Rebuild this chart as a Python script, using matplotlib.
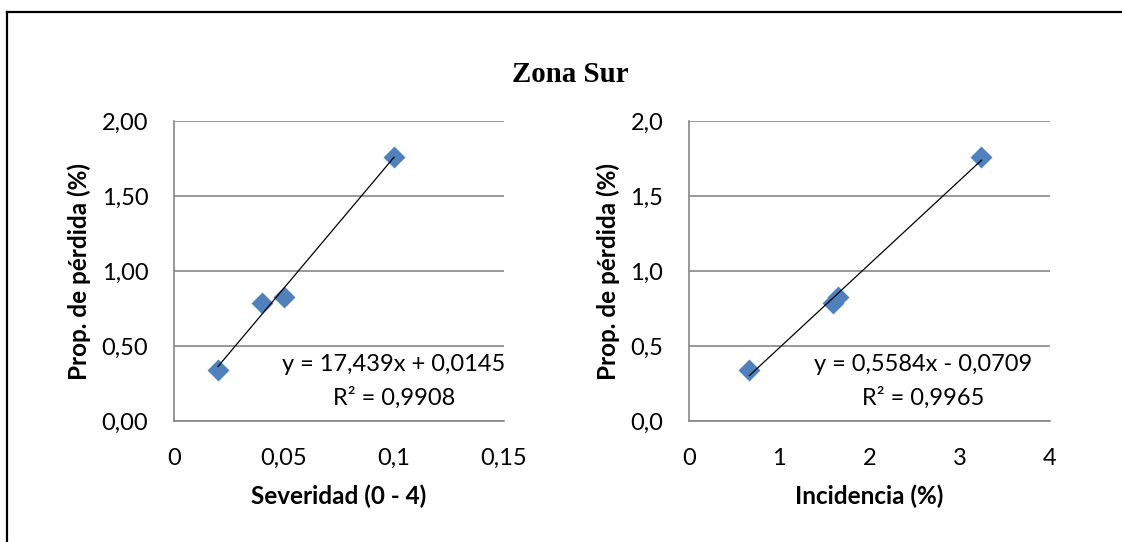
import numpy as np
import matplotlib.pyplot as plt
from matplotlib.lines import Line2D
from matplotlib.ticker import FuncFormatter

# datos
severidad = [0.02, 0.04, 0.05, 0.10]
incidencia = [0.67, 1.60, 1.65, 3.24]
perdida = [0.34, 0.79, 0.83, 1.76]

# lineas de tendencia (coeficientes del grafico)
coef_sev = [17.439, 0.0145]
coef_inc = [0.5584, -0.0709]
eq_sev = ["y = 17,439x + 0,0145", "R² = 0,9908"]
eq_inc = ["y = 0,5584x - 0,0709", "R² = 0,9965"]

plt.rcParams['font.family'] = ['Lato', 'DejaVu Sans']
azul = '#4F81BD'
gris = '#868686'

fig = plt.figure(figsize=(11.22, 5.42), dpi=100)

# marco del documento (solo se ve borde izq. y sup.)
fig.add_artist(Line2D([7/1122, 7/1122], [0, 1 - 12/542], color='black', lw=1.6))
fig.add_artist(Line2D([7/1122, 1], [1 - 12/542, 1 - 12/542], color='black', lw=1.6))

fig.text(570/1122, 1 - 74/542, 'Zona Sur', family='Liberation Serif',
         fontweight='bold', fontsize=20.8, ha='center', va='center')


def coma(fmt):
    return FuncFormatter(lambda v, p: (fmt % v).replace('.', ','))


def panel(rect, x, y, coef, eq, xlim, xticks, xfmt, yfmt, xlabel, ylx, eqx):
    ax = fig.add_axes(rect)
    ax.scatter(x, y, marker='D', s=125, color=azul, zorder=3, linewidths=0)
    xs = np.array([min(x), max(x)])
    ax.plot(xs, coef[0]*xs + coef[1], color='black', lw=0.9, zorder=4)
    ax.set_xlim(xlim)
    ax.set_ylim(0, 2)
    ax.set_xticks(xticks)
    ax.set_yticks([0, 0.5, 1, 1.5, 2])
    ax.xaxis.set_major_formatter(coma(xfmt))
    ax.yaxis.set_major_formatter(coma(yfmt))
    ax.grid(axis='y', color=gris, lw=1.2)
    ax.set_axisbelow(True)
    for s in ['top', 'right']:
        ax.spines[s].set_visible(False)
    for s in ['left', 'bottom']:
        ax.spines[s].set_color(gris)
        ax.spines[s].set_linewidth(1.2)
    ax.tick_params(axis='x', length=0, pad=19.5, labelsize=17)
    ax.tick_params(axis='y', length=0, pad=18.5, labelsize=17)
    ax.set_xlabel(xlabel, fontsize=17.5, fontweight='bold')
    ax.set_ylabel('Prop. de pérdida (%)', fontsize=17.5, fontweight='bold')
    ax.xaxis.label.set_va('center')
    ax.yaxis.label.set_va('center')
    ax.xaxis.set_label_coords(0.5, -0.25)
    ax.yaxis.set_label_coords(ylx, 0.5)
    ax.text(eqx, 0.187, eq[0], transform=ax.transAxes, ha='center', va='center', fontsize=17)
    ax.text(eqx, 0.078, eq[1], transform=ax.transAxes, ha='center', va='center', fontsize=17)
    return ax


panel([174/1122, 1 - 421/542, 330/1122, 300/542], severidad, perdida, coef_sev, eq_sev,
      (0, 0.15), [0, 0.05, 0.1, 0.15], '%g', '%.2f', 'Severidad (0 - 4)', -0.288, 0.667)
panel([689/1122, 1 - 421/542, 361/1122, 300/542], incidencia, perdida, coef_inc, eq_inc,
      (0, 4), [0, 1, 2, 3, 4], '%g', '%.1f', 'Incidencia (%)', -0.224, 0.648)

fig.savefig('out.png', dpi=100)
